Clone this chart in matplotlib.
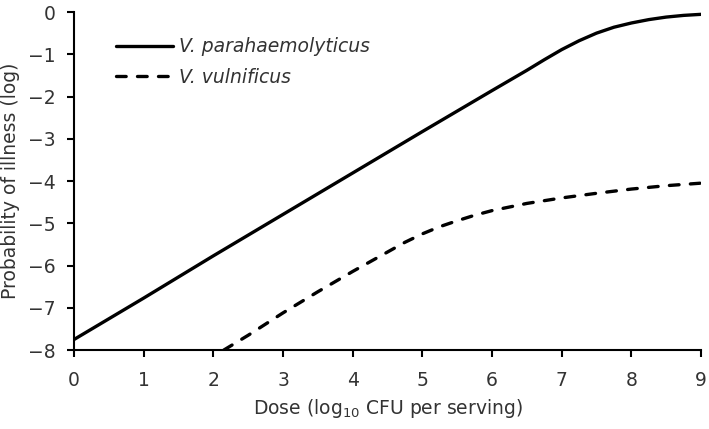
import matplotlib.pyplot as plt

# dose (log10 CFU per serving) vs log probability of illness
vp_dose = [0, 1, 2, 3, 4, 5, 6, 6.5, 6.75, 7, 7.25, 7.5, 7.75, 8, 8.25, 8.5,
           8.75, 9]
vp_prob = [-7.75, -6.77, -5.77, -4.79, -3.81, -2.83, -1.86, -1.38, -1.13,
           -0.89, -0.68, -0.50, -0.36, -0.26, -0.18, -0.12, -0.08, -0.055]

vv_dose = [2.15, 2.5, 3, 3.5, 4, 4.5, 4.75, 5, 5.25, 5.5, 5.75, 6, 6.5, 7,
           7.5, 8, 8.5, 9]
vv_prob = [-8.0, -7.65, -7.12, -6.62, -6.14, -5.68, -5.45, -5.25, -5.08,
           -4.94, -4.81, -4.70, -4.53, -4.40, -4.29, -4.19, -4.11, -4.05]

TEXT = '#333333'
FS = 13.5


def main():
    fig = plt.figure(figsize=(7.09, 4.29), dpi=100)
    ax = fig.add_axes([0.1044, 0.184, 0.8843, 0.788])

    ax.plot(vp_dose, vp_prob, color='black', lw=2.4, solid_capstyle='round',
            label='V. parahaemolyticus')
    ax.plot(vv_dose, vv_prob, color='black', lw=2.4, dashes=(2.9, 3.4),
            dash_capstyle='round', label='V. vulnificus')

    ax.set_xlim(0, 9)
    ax.set_ylim(-8, 0)
    ax.set_xticks(range(0, 10))
    ax.set_yticks(range(-8, 1))
    ax.set_yticklabels(['\u22128', '\u22127', '\u22126', '\u22125', '\u22124',
                        '\u22123', '\u22122', '\u22121', '0'])
    for s in ['top', 'right']:
        ax.spines[s].set_visible(False)
    for s in ['left', 'bottom']:
        ax.spines[s].set_linewidth(1.5)
        ax.spines[s].set_color('black')
    ax.tick_params(direction='out', length=5, width=1.5, labelsize=FS,
                   labelcolor=TEXT)
    ax.tick_params(axis='x', pad=10)
    ax.tick_params(axis='y', pad=8)

    ax.set_xlabel('Dose (log$_{10}$ CFU per serving)', fontsize=FS,
                  color=TEXT, labelpad=5)
    ax.set_ylabel('Probability of illness (log)', fontsize=FS, color=TEXT,
                  labelpad=6)

    leg = ax.legend(loc='upper left', bbox_to_anchor=(0.04, 0.975),
                    frameon=False, handlelength=3.05, handletextpad=0.32,
                    labelspacing=0.6, prop={'style': 'italic', 'size': FS})
    for t in leg.get_texts():
        t.set_color(TEXT)

    fig.savefig('out.png', dpi=100)
    plt.close(fig)


if __name__ == '__main__':
    main()
